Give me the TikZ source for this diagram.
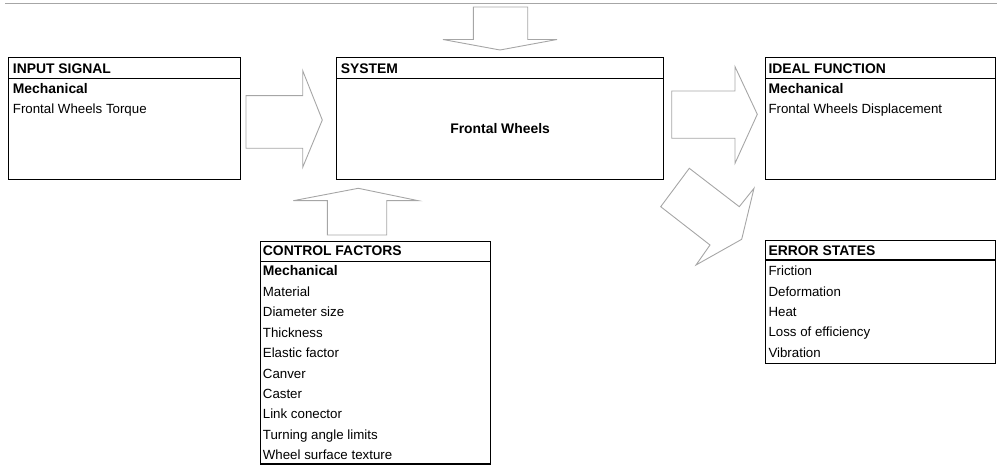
\documentclass[tikz,border=0pt]{standalone}
\usepackage{fontspec}
\setmainfont{Liberation Sans}
\usetikzlibrary{positioning,calc}
\begin{document}
\begin{tikzpicture}[
    x=1pt, y=-1pt,
    box/.style={draw=black, line width=1.2pt, anchor=north west, inner sep=0pt},
    headline/.style={draw=black, line width=1.2pt},
    head/.style={anchor=base west, inner sep=0pt, font=\fontsize{13.9}{16}\selectfont\bfseries},
    item/.style={anchor=base west, inner sep=0pt, font=\fontsize{13.3}{16}\selectfont},
    bolditem/.style={item, font=\fontsize{13.9}{16}\selectfont\bfseries},
    blockarrow/.style={draw=black!35, line width=0.9pt, line join=miter}
]
\useasboundingbox (0,0) rectangle (997,465);
\draw[black!35, line width=1.3pt] (5,3.3) -- (997,3.3);
% boxes
\node[box, minimum width=232pt, minimum height=122pt] (input) at (8,57.3) {};
\node[box, minimum width=327pt, minimum height=122pt] (system) at (336,57.3) {};
\node[box, minimum width=230pt, minimum height=122pt] (ideal) at (765,57.3) {};
\node[box, minimum width=230pt, minimum height=122.7pt] (error) at (765,240) {};
\node[box, minimum width=230pt, minimum height=222.6pt] (control) at (260,240.7) {};
\draw[headline] ($(input.north west)+(0,21)$) -- ($(input.north east)+(0,21)$);
\draw[headline] ($(system.north west)+(0,21)$) -- ($(system.north east)+(0,21)$);
\draw[headline] ($(ideal.north west)+(0,21)$) -- ($(ideal.north east)+(0,21)$);
\draw[headline] ($(error.north west)+(0,20)$) -- ($(error.north east)+(0,20)$);
\draw[headline] ($(control.north west)+(0,21)$) -- ($(control.north east)+(0,21)$);
% input signal
\node[head] (input-title) at ($(input.north west)+(4.7,16)$) {INPUT SIGNAL};
\node[bolditem] (input-mech) at ($(input.north west)+(4.7,36.2)$) {Mechanical};
\node[item] (input-torque) at ($(input.north west)+(4.7,56.7)$) {Frontal Wheels Torque};
% system
\node[head] (system-title) at ($(system.north west)+(4.7,16)$) {SYSTEM};
\node[bolditem, anchor=base] (system-wheels) at ($(system.north)+(0,76.7)$) {Frontal Wheels};
% ideal function
\node[head] (ideal-title) at ($(ideal.north west)+(3.3,16)$) {IDEAL FUNCTION};
\node[bolditem] (ideal-mech) at ($(ideal.north west)+(3.3,36.2)$) {Mechanical};
\node[item] (ideal-disp) at ($(ideal.north west)+(3.3,56.7)$) {Frontal Wheels Displacement};
% error states
\node[head] (error-title) at ($(error.north west)+(3.3,15.3)$) {ERROR STATES};
\node[item] (error-1) at ($(error.north west)+(3.3,36)$) {Friction};
\node[item] (error-2) at ($(error.north west)+(3.3,56.3)$) {Deformation};
\node[item] (error-3) at ($(error.north west)+(3.3,76.6)$) {Heat};
\node[item] (error-4) at ($(error.north west)+(3.3,96.9)$) {Loss of efficiency};
\node[item] (error-5) at ($(error.north west)+(3.3,117.2)$) {Vibration};
% control factors
\node[head] (control-title) at ($(control.north west)+(2.7,15.3)$) {CONTROL FACTORS};
\node[bolditem] (control-mech) at ($(control.north west)+(2.7,35.3)$) {Mechanical};
\node[item] (control-1) at ($(control.north west)+(2.7,55.7)$) {Material};
\node[item] (control-2) at ($(control.north west)+(2.7,76.1)$) {Diameter size};
\node[item] (control-3) at ($(control.north west)+(2.7,96.5)$) {Thickness};
\node[item] (control-4) at ($(control.north west)+(2.7,116.9)$) {Elastic factor};
\node[item] (control-5) at ($(control.north west)+(2.7,137.3)$) {Canver};
\node[item] (control-6) at ($(control.north west)+(2.7,157.7)$) {Caster};
\node[item] (control-7) at ($(control.north west)+(2.7,178.1)$) {Link conector};
\node[item] (control-8) at ($(control.north west)+(2.7,198.5)$) {Turning angle limits};
\node[item] (control-9) at ($(control.north west)+(2.7,218.9)$) {Wheel surface texture};
% block arrows
\draw[blockarrow] (473.3,7) -- (527.7,7) -- (527.7,39.5) -- (557,39.5) -- (500,50) -- (443,39.5) -- (473.3,39.5) -- cycle;
\draw[blockarrow] (246,95.7) -- (302.7,95.7) -- (302.7,70.7) -- (322.3,120) -- (302.7,167.3) -- (302.7,148.3) -- (246,148.3) -- cycle;
\draw[blockarrow] (671.7,91) -- (735,91) -- (735,66.7) -- (757.3,114.3) -- (735,163.3) -- (735,138.3) -- (671.7,138.3) -- cycle;
\draw[blockarrow] (327.3,235) -- (327.3,200.7) -- (293.3,200.7) -- (358.3,188.3) -- (418.3,200.7) -- (386.7,200.7) -- (386.7,235) -- cycle;
\draw[blockarrow] (689.3,168.3) -- (660.7,206.7) -- (710,245) -- (696,265) -- (741.7,239.3) -- (754,188.3) -- (739.3,206.7) -- cycle;
\end{tikzpicture}
\end{document}
